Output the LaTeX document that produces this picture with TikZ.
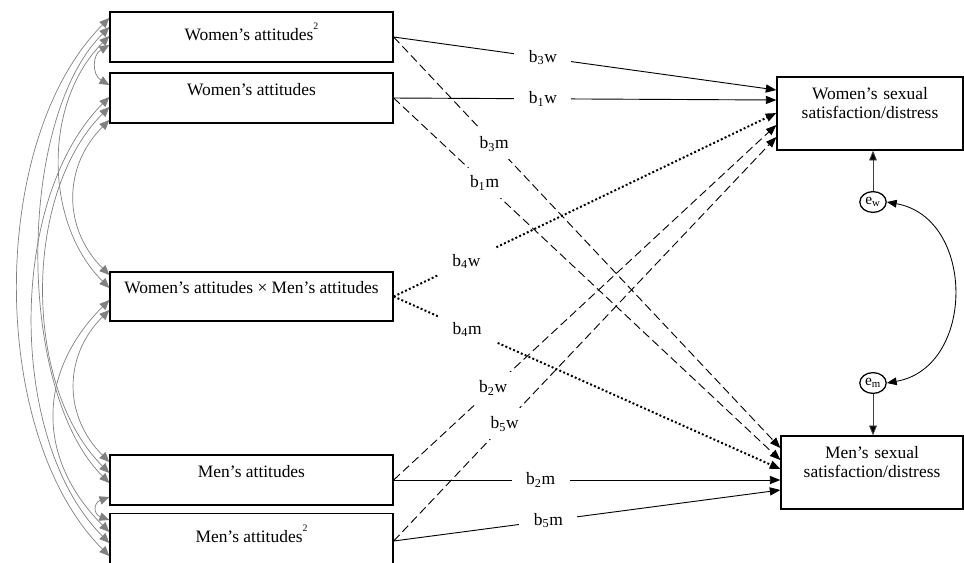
\documentclass[tikz,border=0pt]{standalone}
\usepackage{fontspec}
\setmainfont{Liberation Serif}
\usetikzlibrary{arrows.meta, shapes.geometric}

\tikzset{
  varbox/.style={draw, line width=0.9pt, minimum width=7.075cm, inner sep=0pt,
    text height=0.55cm, text depth=0.7cm},
  sqbox/.style={varbox, text height=0.71cm, text depth=0.54cm},
  outbox/.style={draw, line width=0.9pt, inner sep=0pt, align=center,
    text height=0.55cm, text depth=1.275cm},
  errnode/.style={draw, ellipse, line width=0.9pt, inner sep=0pt,
    minimum width=0.66cm, minimum height=0.52cm, font=\fontsize{11}{13}\selectfont},
  coef/.style={fill=white, inner xsep=0.36cm, inner ysep=0.2cm},
  effect/.style={line width=0.65pt, -{Triangle[length=7.5pt,width=5.8pt]}},
  cross/.style={effect, dash pattern=on 6pt off 3pt},
  inter/.style={effect, line width=1.4pt, dash pattern=on 1.4pt off 1.6pt},
  cov/.style={gray, line width=0.5pt,
    {Triangle[length=7pt,width=6pt]}-{Triangle[length=7pt,width=6pt]}},
  errarrow/.style={black!75, line width=0.6pt, -{Triangle[length=7pt,width=5.5pt,fill=black]}},
  errcov/.style={line width=0.6pt,
    {Triangle[length=7pt,width=5.5pt]}-{Triangle[length=7pt,width=5.5pt]}}
}

\begin{document}
\begin{tikzpicture}[x=0.025cm, y=-0.025cm, font=\fontsize{12.4}{14.2}\selectfont]
    \useasboundingbox (0,0) rectangle (964,562);

    % Predictors
    \node[sqbox] (w2) at (251.5,37) {Women's attitudes\raisebox{0.6em}{\scriptsize 2}};
    \node[varbox] (w) at (251.5,98) {Women's attitudes};
    \node[varbox, text height=0.53cm] (wm) at (251.5,296.5) {Women's attitudes × Men's attitudes};
    \node[varbox, text height=0.57cm, text depth=0.68cm] (m) at (251.5,480) {Men's attitudes};
    \node[sqbox, text depth=0.66cm] (m2) at (251.5,541) {Men's attitudes\raisebox{0.6em}{\scriptsize 2}};

    % Outcomes
    \node[outbox, text width=4.65cm] (ws) at (870,113.5) {Women's sexual\\satisfaction/distress};
    \node[outbox, text width=4.55cm] (ms) at (872,472.5) {Men's sexual\\satisfaction/distress};

    % Residuals
    \node[errnode] (ew) at (873,202) {e\textsubscript{w}};
    \node[errnode] (em) at (873,383) {e\textsubscript{m}};
    \draw[errarrow] (ew) -- (ew |- ws.south);
    \draw[errarrow] (em) -- (em |- ms.north);
    \draw[errcov] (ew.east) to[out=-10, in=10, looseness=1.28] (em.east);

    % Paths to women's outcome
    \draw[effect] (w2.east) -- node[coef, pos=0.39] {b\textsubscript{3}w} (ws.west |- 0,90);
    \draw[effect] (w.east) -- node[coef, pos=0.39] {b\textsubscript{1}w} (ws.west |- 0,100);
    \draw[inter] (wm.east) -- node[coef, pos=0.19] {b\textsubscript{4}w} (ws.west |- 0,113);
    \draw[cross] (m.east) -- node[coef, pos=0.26] {b\textsubscript{2}w} (ws.west |- 0,125);
    \draw[cross] (m2.east) -- node[coef, pos=0.29] {b\textsubscript{5}w} (ws.west |- 0,137);

    % Paths to men's outcome
    \draw[cross] (w2.east) -- node[coef, pos=0.26] {b\textsubscript{3}m} (ms.west |- 0,448);
    \draw[cross] (w.east) -- node[coef, pos=0.235] {b\textsubscript{1}m} (ms.west |- 0,460);
    \draw[inter] (wm.east) -- node[coef, pos=0.19] {b\textsubscript{4}m} (ms.west |- 0,469);
    \draw[effect] (m.east) -- node[coef, pos=0.38] {b\textsubscript{2}m} (ms.west |- 0,480);
    \draw[effect] (m2.east) -- node[coef, pos=0.40] {b\textsubscript{5}m} (ms.west |- 0,490);

    % Covariances among predictors
    \draw[cov] (w2.west |- 0,45) to[out=210, in=150, looseness=1.28] (w.west |- 0,85);
    \draw[cov] (m.west |- 0,497) to[out=200, in=160, looseness=1.9] (m2.west |- 0,520);
    \draw[cov] (w.west |- 0,120) to[out=225, in=135, looseness=1.09] (wm.west |- 0,275);
    \draw[cov] (wm.west |- 0,310) to[out=225, in=135, looseness=1.1] (m.west |- 0,462);
    \draw[cov] (w2.west |- 0,36) to[out=225, in=135, looseness=0.95] (wm.west |- 0,288);
    \draw[cov] (w.west |- 0,107) to[out=225, in=135, looseness=0.86] (m.west |- 0,473);
    \draw[cov] (wm.west |- 0,300) to[out=225, in=135, looseness=1.14] (m2.west |- 0,532);
    \draw[cov] (w2.west |- 0,27) to[out=225, in=135, looseness=0.74] (m.west |- 0,483);
    \draw[cov] (w.west |- 0,97) to[out=225, in=135, looseness=0.83] (m2.west |- 0,543);
    \draw[cov] (w2.west |- 0,18) to[out=225, in=135, looseness=0.82] (m2.west |- 0,556);
\end{tikzpicture}
\end{document}
